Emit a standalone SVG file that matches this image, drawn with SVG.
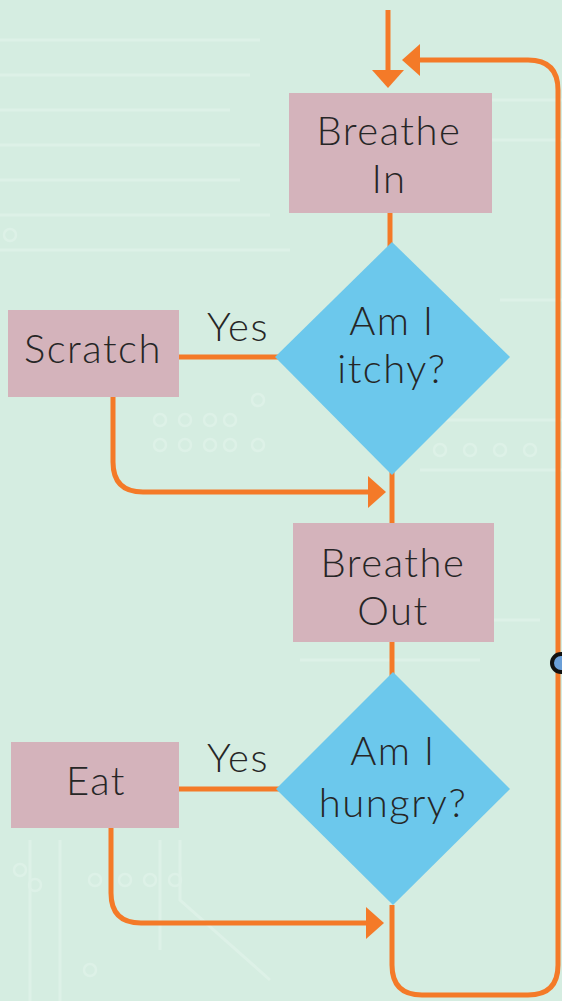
<svg xmlns="http://www.w3.org/2000/svg" width="562" height="1001" viewBox="0 0 562 1001">
<style>
.bg-trace{fill:none;stroke:#ddf1e7;stroke-width:3}
.bg-dot{fill:none;stroke:#ddf1e7;stroke-width:2.5}
.box{fill:#d4b3bb}
.dia{fill:#6cc8ec}
.conn{fill:none;stroke:#f47a28;stroke-width:5}
.t{font-family:Lato,"Liberation Sans",sans-serif;font-size:40px;font-weight:300;fill:#262626;text-anchor:middle;letter-spacing:1.5px}
</style>
<defs>
<marker id="ah" viewBox="0 0 18 32" markerWidth="18" markerHeight="32" refX="0" refY="16" orient="auto" markerUnits="userSpaceOnUse">
<path d="M0,0 L18,16 L0,32 Z" fill="#f47a28"/>
</marker>
</defs>
<rect width="562" height="1001" fill="#d5ede1"/>
<g id="background">
<path class="bg-trace" d="M0,40 H260 M0,75 H250 M0,110 H230 M0,145 H260 M0,180 H240 M0,215 H270 M0,250 H290"/>
<path class="bg-trace" d="M440,100 H562 M470,140 H562 M500,300 H562 M420,420 H562 M420,470 H562 M420,620 H540 M300,660 H480"/>
<path class="bg-trace" d="M30,840 V1001 M60,840 V1001 M160,840 V950 M180,840 L180,900 L270,980"/>
<circle class="bg-dot" cx="20" cy="870" r="6"/><circle class="bg-dot" cx="35" cy="885" r="6"/>
<circle class="bg-dot" cx="95" cy="880" r="6"/><circle class="bg-dot" cx="125" cy="880" r="6"/>
<circle class="bg-dot" cx="150" cy="880" r="6"/><circle class="bg-dot" cx="175" cy="880" r="6"/>
<circle class="bg-dot" cx="90" cy="970" r="6"/>
<circle class="bg-dot" cx="160" cy="420" r="6"/><circle class="bg-dot" cx="185" cy="420" r="6"/>
<circle class="bg-dot" cx="210" cy="420" r="6"/><circle class="bg-dot" cx="230" cy="420" r="6"/>
<circle class="bg-dot" cx="160" cy="445" r="6"/><circle class="bg-dot" cx="185" cy="445" r="6"/>
<circle class="bg-dot" cx="210" cy="445" r="6"/><circle class="bg-dot" cx="230" cy="445" r="6"/>
<circle class="bg-dot" cx="258" cy="400" r="6"/><circle class="bg-dot" cx="258" cy="445" r="6"/>
<circle class="bg-dot" cx="10" cy="235" r="6"/>
<circle class="bg-dot" cx="440" cy="450" r="6"/><circle class="bg-dot" cx="470" cy="450" r="6"/>
<circle class="bg-dot" cx="500" cy="450" r="6"/><circle class="bg-dot" cx="530" cy="450" r="6"/>
</g>
<g id="connectors">
<path class="conn" d="M388,10 V70" marker-end="url(#ah)"/>
<path class="conn" d="M392,905 V965 Q392,995 422,995 H528 Q558,995 558,965 V90 Q558,60 528,60 H420" marker-end="url(#ah)"/>
<path class="conn" d="M390,211 V250"/>
<path class="conn" d="M392,470 V525"/>
<path class="conn" d="M392,640 V680"/>
<path class="conn" d="M179,357 H280"/>
<path class="conn" d="M179,789 H280"/>
<path class="conn" d="M113,396 V462 Q113,492 143,492 H368" marker-end="url(#ah)"/>
<path class="conn" d="M111,827 V893 Q111,923 141,923 H366" marker-end="url(#ah)"/>
<text class="t" x="238" y="341">Yes</text>
<text class="t" x="238" y="772">Yes</text>
</g>
<g id="breathe-in">
<rect class="box" x="289" y="93" width="203" height="120"/>
<text class="t" x="389" y="145">Breathe</text>
<text class="t" x="389" y="193">In</text>
</g>
<g id="itchy">
<polygon class="dia" points="392,242 510,357 392,475 275,357"/>
<text class="t" x="392" y="335">Am I</text>
<text class="t" x="392" y="383">itchy?</text>
</g>
<g id="scratch">
<rect class="box" x="8" y="310" width="171" height="87"/>
<text class="t" x="93" y="363">Scratch</text>
</g>
<g id="breathe-out">
<rect class="box" x="293" y="523" width="201" height="119"/>
<text class="t" x="393" y="577">Breathe</text>
<text class="t" x="393" y="625">Out</text>
</g>
<g id="hungry">
<polygon class="dia" points="393,672 510,789 393,905 276,789"/>
<text class="t" x="393" y="765">Am I</text>
<text class="t" x="393" y="817">hungry?</text>
</g>
<g id="eat">
<rect class="box" x="11" y="742" width="168" height="86"/>
<text class="t" x="96" y="795">Eat</text>
</g>
<g id="handle">
<circle cx="561" cy="663" r="9" fill="#6a9fd8" stroke="#111" stroke-width="4"/>
</g>
</svg>
